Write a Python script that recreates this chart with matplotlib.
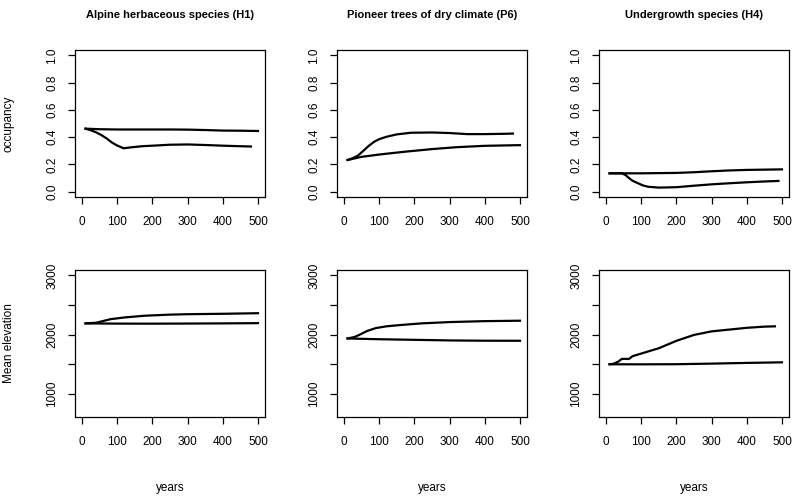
import matplotlib
matplotlib.use('Agg')
import matplotlib.pyplot as plt

plt.rcParams['font.family'] = ['Liberation Sans', 'DejaVu Sans']

titles = ['Alpine herbaceous species (H1)',
          'Pioneer trees of dry climate (P6)',
          'Undergrowth species (H4)']

# occupancy, top row (two runs per species)
h1_occ_x1 = [10, 50, 100, 150, 200, 250, 300, 350, 400, 450, 500]
h1_occ_y1 = [0.462, 0.458, 0.456, 0.456, 0.456, 0.456, 0.455, 0.452, 0.448, 0.447, 0.445]
h1_occ_x2 = [10, 25, 40, 55, 70, 85, 100, 118, 140, 170, 200, 250, 300, 350, 400, 450, 480]
h1_occ_y2 = [0.462, 0.45, 0.435, 0.415, 0.39, 0.36, 0.338, 0.318, 0.325, 0.333, 0.337, 0.344, 0.346, 0.342, 0.337, 0.333, 0.331]

p6_occ_x1 = [10, 25, 40, 55, 70, 85, 100, 120, 150, 190, 250, 300, 350, 400, 450, 480]
p6_occ_y1 = [0.232, 0.245, 0.265, 0.3, 0.335, 0.365, 0.385, 0.402, 0.42, 0.432, 0.434, 0.43, 0.422, 0.422, 0.424, 0.426]
p6_occ_x2 = [10, 50, 100, 170, 250, 320, 400, 500]
p6_occ_y2 = [0.232, 0.255, 0.272, 0.292, 0.312, 0.326, 0.336, 0.341]

h4_occ_x1 = [10, 100, 200, 250, 300, 350, 400, 450, 500]
h4_occ_y1 = [0.134, 0.134, 0.137, 0.142, 0.149, 0.155, 0.159, 0.161, 0.163]
h4_occ_x2 = [10, 45, 55, 65, 75, 90, 105, 120, 150, 200, 250, 300, 350, 400, 450, 490]
h4_occ_y2 = [0.134, 0.134, 0.122, 0.1, 0.08, 0.062, 0.045, 0.035, 0.029, 0.032, 0.043, 0.053, 0.061, 0.068, 0.074, 0.078]

# mean elevation, bottom row
h1_elev_x1 = [10, 40, 60, 80, 120, 180, 250, 300, 400, 500]
h1_elev_y1 = [2190, 2200, 2230, 2260, 2290, 2320, 2338, 2345, 2352, 2362]
h1_elev_x2 = [10, 100, 200, 300, 400, 500]
h1_elev_y2 = [2190, 2186, 2185, 2187, 2190, 2194]

p6_elev_x1 = [10, 30, 45, 65, 90, 120, 160, 220, 300, 400, 500]
p6_elev_y1 = [1935, 1960, 2000, 2060, 2110, 2140, 2162, 2190, 2212, 2228, 2235]
p6_elev_x2 = [10, 100, 200, 300, 400, 500]
p6_elev_y2 = [1935, 1922, 1912, 1902, 1897, 1896]

h4_elev_x1 = [10, 20, 35, 45, 55, 65, 75, 100, 150, 200, 250, 300, 350, 400, 450, 480]
h4_elev_y1 = [1500, 1505, 1545, 1590, 1590, 1588, 1635, 1680, 1770, 1895, 1995, 2055, 2085, 2115, 2135, 2140]
h4_elev_x2 = [10, 100, 200, 300, 400, 500]
h4_elev_y2 = [1499, 1498, 1500, 1510, 1522, 1532]

occ = [(h1_occ_x1, h1_occ_y1, h1_occ_x2, h1_occ_y2),
       (p6_occ_x1, p6_occ_y1, p6_occ_x2, p6_occ_y2),
       (h4_occ_x1, h4_occ_y1, h4_occ_x2, h4_occ_y2)]
elev = [(h1_elev_x1, h1_elev_y1, h1_elev_x2, h1_elev_y2),
        (p6_elev_x1, p6_elev_y1, p6_elev_x2, p6_elev_y2),
        (h4_elev_x1, h4_elev_y1, h4_elev_x2, h4_elev_y2)]

W, H = 800, 497
fig = plt.figure(figsize=(W / 100, H / 100), dpi=100)

lefts = [75, 337, 599]
pw = 190
rows = [(50, 197), (270, 417)]


def style(ax):
    ax.set_xlim(-20, 520)
    ax.set_xticks([0, 100, 200, 300, 400, 500])
    ax.tick_params(direction='out', length=5, width=0.9, labelsize=8.5, pad=9)
    ax.tick_params(axis='y', pad=7)
    for lab in ax.get_yticklabels():
        lab.set_rotation(90)
        lab.set_va('center')
    for s in ax.spines.values():
        s.set_linewidth(0.9)


for i in range(3):
    for r, data in enumerate([occ, elev]):
        top, bot = rows[r]
        ax = fig.add_axes([lefts[i] / W, 1 - bot / H, pw / W, (bot - top) / H])
        x1, y1, x2, y2 = data[i]
        ax.plot(x1, y1, color='black', lw=1.6)
        ax.plot(x2, y2, color='black', lw=1.6)
        if r == 0:
            ax.set_ylim(-0.04, 1.04)
            ax.set_yticks([0.0, 0.2, 0.4, 0.6, 0.8, 1.0])
            ax.set_yticklabels(['0.0', '0.2', '0.4', '0.6', '0.8', '1.0'])
            ax.text(0.5, 1 + 35 / (bot - top), titles[i], transform=ax.transAxes,
                    ha='center', va='center', fontsize=8, fontweight='bold')
            if i == 0:
                ax.set_ylabel('occupancy', fontsize=8.5)
        else:
            ax.set_ylim(608, 3092)
            ax.set_yticks([1000, 1500, 2000, 2500, 3000])
            ax.set_yticklabels(['1000', '', '2000', '', '3000'])
            ax.set_xlabel('years', fontsize=8.5)
            ax.xaxis.set_label_coords(0.5, -65 / (bot - top))
            if i == 0:
                ax.set_ylabel('Mean elevation', fontsize=8.5)
        if i == 0:
            ax.yaxis.set_label_coords(-60 / pw, 0.5)
        style(ax)

fig.savefig('out.png', dpi=100)
